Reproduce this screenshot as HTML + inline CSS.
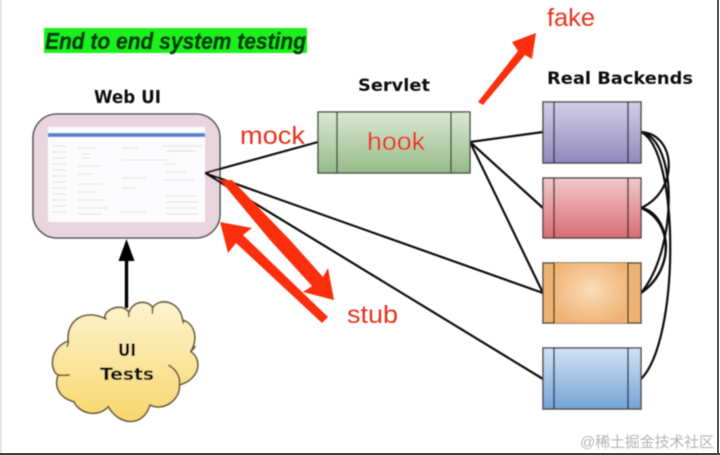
<!DOCTYPE html>
<html><head><meta charset="utf-8">
<style>
html,body{margin:0;padding:0;background:#fff}
svg{display:block}
.h{font-family:"DejaVu Sans","Liberation Sans",sans-serif;font-weight:bold;fill:#111}
.r{font-family:"Liberation Sans",sans-serif;fill:#e8321f;font-size:25px}
</style></head><body>
<svg width="720" height="455" viewBox="0 0 720 455" xmlns="http://www.w3.org/2000/svg">
<defs>
<linearGradient id="gG" x1="0" y1="0" x2="0" y2="1"><stop offset="0" stop-color="#dbe8d4"/><stop offset="1" stop-color="#95bb88"/></linearGradient>
<linearGradient id="gP" x1="0" y1="0" x2="0" y2="1"><stop offset="0" stop-color="#d2cee4"/><stop offset="1" stop-color="#9189bd"/></linearGradient>
<linearGradient id="gR" x1="0" y1="0" x2="0" y2="1"><stop offset="0" stop-color="#f0c8c8"/><stop offset="1" stop-color="#da6d75"/></linearGradient>
<radialGradient id="gO" cx="0.5" cy="0.45" r="0.6"><stop offset="0" stop-color="#fbdcb8"/><stop offset="1" stop-color="#eeb273"/></radialGradient>
<linearGradient id="gB" x1="0" y1="0" x2="0" y2="1"><stop offset="0" stop-color="#d2e2f3"/><stop offset="1" stop-color="#75a3d6"/></linearGradient>
<linearGradient id="gY" x1="0" y1="0" x2="0" y2="1"><stop offset="0" stop-color="#fdf3d0"/><stop offset="1" stop-color="#f8d76c"/></linearGradient>
<filter id="s" x="-5%" y="-5%" width="110%" height="110%"><feGaussianBlur stdDeviation="0.45"/></filter>
</defs>
<rect x="0" y="0" width="720" height="455" fill="#fff"/>
<rect x="0" y="0" width="2" height="453" fill="#e6e6e6"/>
<rect x="717" y="0" width="2" height="453" fill="#555"/>
<rect x="0" y="453" width="720" height="2" fill="#444"/>

<g filter="url(#s)">
<rect x="44" y="28" width="263" height="25" fill="#1df01f"/>
<text x="45" y="49" font-family="'Liberation Sans',sans-serif" font-weight="bold" font-style="italic" font-size="23" fill="#063d10" stroke="#063d10" stroke-width="0.6" textLength="261" lengthAdjust="spacingAndGlyphs">End to end system testing</text>

<text class="h" x="94" y="103" font-size="18" textLength="67" lengthAdjust="spacingAndGlyphs">Web UI</text>
<text class="h" x="358" y="91" font-size="17" textLength="72" lengthAdjust="spacingAndGlyphs">Servlet</text>
<text class="h" x="547" y="84" font-size="17" textLength="146" lengthAdjust="spacingAndGlyphs">Real Backends</text>

<!-- Web UI box -->
<rect x="33" y="114" width="187" height="124" rx="24" fill="#e8d5de" stroke="#555" stroke-width="1.6"/>
<rect x="48" y="127" width="157" height="95" fill="#fbfbfd"/>
<rect x="48" y="133" width="157" height="4" fill="#5b82cf"/>
<g stroke="#e6e7ea" stroke-width="1.2">
<path d="M52 146h14M52 152h14M52 158h14M52 164h14M52 170h14M52 176h14M52 182h14M52 188h14M52 194h14M52 200h14M52 206h14M52 212h14"/>
<path d="M78 148h18M82 154h8M82 158h8M78 166h22M78 174h14M78 184h24M78 192h16M78 200h26M78 208h30M78 214h24"/>
<path d="M122 148h16M122 160h48M122 178h24M122 188h14M120 212h26"/>
<path d="M162 146h40M166 151h30M164 164h12M166 172h20M164 180h30M166 196h30M166 202h32M166 208h30M166 214h32"/>
</g>

<!-- Black connectors -->
<g fill="none" stroke="#111" stroke-width="2.2">
<path d="M205 173L318 142"/>
<path d="M205 173L543 293"/>
<path d="M205 173L543 379"/>
<path d="M470 142L543 132"/>
<path d="M470 142L543 208"/>
<path d="M470 142L543 293"/>
<path d="M641 132C676 134 680 190 641 208"/>
<path d="M641 132C678 140 678 248 641 293"/>
<path d="M641 132C680 150 680 340 641 379"/>
<path d="M641 208C668 212 680 266 641 293"/>
<path d="M641 208C674 222 674 270 641 293"/>
</g>

<!-- Servlet -->
<rect x="318" y="112" width="152" height="61" fill="url(#gG)" stroke="#3f4f3f" stroke-width="1.4"/>
<path d="M337 112V173M451 112V173" stroke="#3f4f3f" stroke-width="1.4"/>

<!-- Backends -->
<g stroke="#444" stroke-width="1.4">
<rect x="543" y="102" width="98" height="61" fill="url(#gP)"/>
<path d="M554 102V163M628 102V163" stroke="#33304d"/>
<rect x="543" y="178" width="98" height="60" fill="url(#gR)"/>
<path d="M554 178V238M628 178V238" stroke="#4d2b2d"/>
<rect x="543" y="263" width="98" height="60" fill="#eeb273"/>
<rect x="554" y="263" width="74" height="60" fill="url(#gO)" stroke="none"/>
<path d="M554 263V323M628 263V323" stroke="#4d3822"/>
<rect x="543" y="348" width="98" height="61" fill="url(#gB)"/>
<path d="M554 348V409M628 348V409" stroke="#26364d"/>
</g>

<!-- UI Tests -->
<path d="M126.500 308V258" stroke="#000" stroke-width="3.4"/>
<path d="M126.500 239L134.500 261H118.500Z" fill="#000"/>
<g transform="translate(0,215) scale(0.33333)">
<path d="M205 378C198 320 250 278 318 312C300 295 360 255 387 292C400 255 445 255 458 278C480 245 540 260 548 315C580 325 598 365 572 410C605 430 605 490 538 510C542 555 490 590 450 570C430 635 360 635 325 575C290 612 235 592 222 560C180 550 160 515 175 480C150 470 145 400 205 378Z" fill="url(#gY)" stroke="#6b5f3e" stroke-width="5" stroke-linejoin="round"/>
<path d="M505 450C532 465 542 490 538 510M175 480C186 482 198 481 209 480M205 378C206 384 203 390 201 395M572 410C578 405 582 400 586 393M548 315C548 320 549 322 552 325M458 278C457 285 456 290 458 296M387 292C385 296 386 301 387 306" fill="none" stroke="#6b5f3e" stroke-width="5"/>
</g>
<text class="h" x="118" y="356" font-size="17" textLength="18" lengthAdjust="spacingAndGlyphs">UI</text>
<text class="h" x="100" y="380" font-size="17" textLength="54" lengthAdjust="spacingAndGlyphs">Tests</text>

<!-- Red arrows -->
<path d="M220 180L232 180L290 240L323 277L328 268L334 300L303 292L312 286L270 240Z" fill="#fb2f0c"/>
<path d="M220 222L252 228L243 235L328 317L322 323L236 243L228 253Z" fill="#fb2f0c"/>
<path d="M478 102L518 51L512 42L536 33L532 59L525 55L483 105Z" fill="#fb2f0c"/>

<text class="r" x="240" y="144" textLength="65" lengthAdjust="spacingAndGlyphs">mock</text>
<text class="r" x="367" y="150" textLength="58" lengthAdjust="spacingAndGlyphs">hook</text>
<text class="r" x="547" y="26" textLength="48" lengthAdjust="spacingAndGlyphs">fake</text>
<text class="r" x="347" y="323" textLength="51" lengthAdjust="spacingAndGlyphs">stub</text>
<text x="580" y="447" font-family="'Liberation Sans','Noto Sans CJK SC',sans-serif" font-size="15" fill="#b4b4b4" textLength="134">@稀土掘金技术社区</text>
</g>
</svg>
</body></html>
